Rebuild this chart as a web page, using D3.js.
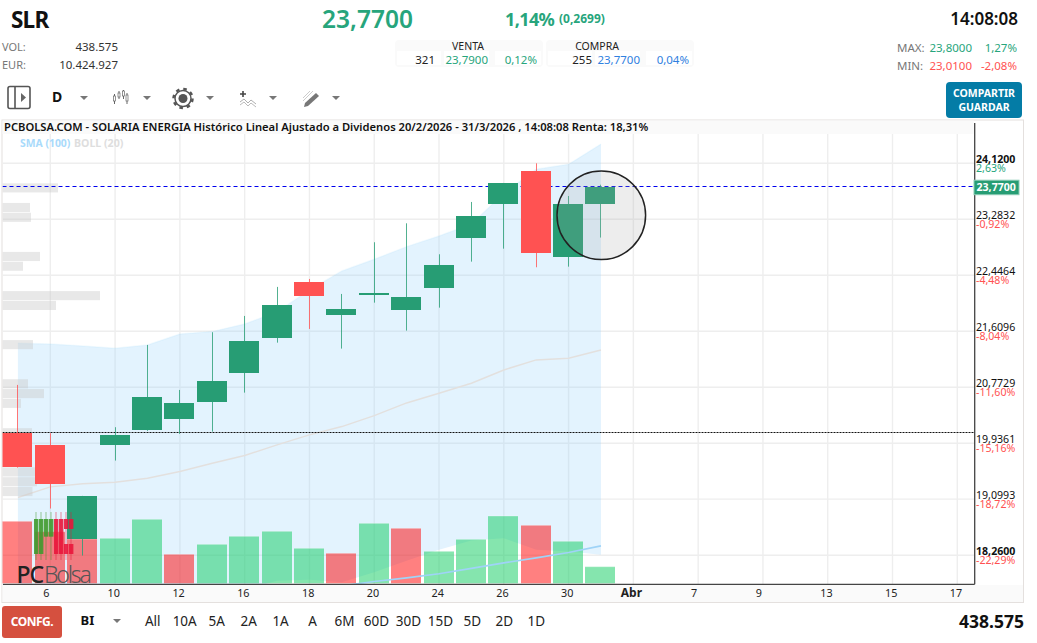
<!DOCTYPE html>
<html lang="es">
<head>
<meta charset="UTF-8">
<title>SLR - PCBolsa</title>
<script src="https://cdnjs.cloudflare.com/ajax/libs/d3/7.8.5/d3.min.js"></script>
<style>
  html, body { margin: 0; padding: 0; background: #fff; overflow: hidden; }
  svg { display: block; }
  text { font-family: "Noto Sans", sans-serif; }
</style>
</head>
<body>
<svg id="chart" width="1037" height="643"></svg>
<script>
// Sessions, 5 March to 31 March 2026
const opens  = [20.085, 19.911, 18.506, 19.911, 20.135, 20.299, 20.553, 20.986, 21.51, 22.346, 21.853, 22.152, 21.928, 22.257, 23.004, 23.512, 24.005, 22.72, 23.512];
const closes = [19.582, 19.328, 19.148, 20.06, 20.628, 20.538, 20.867, 21.465, 22.003, 22.137, 21.943, 22.182, 22.122, 22.6, 23.332, 23.826, 22.78, 23.512, 23.77];
const highs  = [20.807, 20.085, 19.148, 20.175, 21.405, 20.732, 21.595, 21.838, 22.272, 22.391, 22.167, 22.94, 23.223, 22.76, 23.542, 23.826, 24.12, 23.631, 23.8];
const lows   = [19.57, 18.959, 18.256, 19.676, 20.12, 20.075, 20.109, 20.692, 21.439, 21.644, 21.35, 22.037, 21.619, 21.962, 22.65, 22.844, 22.566, 22.575, 23.01];
const volumes = [1638000, 1363000, 1170000, 1189000, 1691000, 766000, 1030000, 1242000, 1374000, 925000, 793000, 1585000, 1453000, 845000, 1162000, 1778000, 1532000, 1110000, 438575];

// Indicators
const bollUpper = [21.43, 21.42, 21.39, 21.356, 21.405, 21.569, 21.604, 21.719, 21.898, 22.227, 22.511, 22.685, 22.874, 23.034, 23.213, 23.672, 24.03, 24.105, 24.408];
const bollMid   = [19.123, 19.283, 19.328, 19.353, 19.413, 19.512, 19.637, 19.751, 19.911, 20.06, 20.184, 20.348, 20.538, 20.683, 20.833, 21.031, 21.181, 21.206, 21.33];
const bollLower = [17.6, 17.58, 17.55, 17.5, 17.48, 17.55, 17.62, 17.744, 17.878, 17.893, 17.859, 18.008, 18.177, 18.342, 18.48, 18.516, 18.342, 18.316, 18.267];
const sma100    = [null, null, null, null, null, null, null, null, null, null, 17.804, 17.868, 17.923, 17.983, 18.065, 18.147, 18.222, 18.301, 18.401];

// Volume by price, one value per price bin from the top down
const priceBinTop = 23.82;
const priceBinSize = 0.1464;
const priceBinVolume = [555, 0, 275, 285, 0, 0, 0, 375, 205, 0, 0, 975, 535, 0, 0, 0, 305, 0, 0, 0, 255, 415, 185, 0, 0, 295, 0, 0, 0, 325, 345, 300];

// Axis ticks
const priceTicks = [24.12, 23.2832, 22.4464, 21.6096, 20.7729, 19.9361, 19.0993, 18.26];
const pctLabels = ["2,63%", "-0,92%", "-4,48%", "-8,04%", "-11,60%", "-15,16%", "-18,72%", "-22,29%"];
const timeTicks = [1, 3, 5, 7, 9, 11, 13, 15, 17, 19, 21, 23, 25, 27, 29];
const timeLabels = ["6", "10", "12", "16", "18", "20", "24", "26", "30", "Abr", "7", "9", "13", "15", "17"];

const lastPrice = 23.77;
const basePrice = 20.09;
const periods = ["All", "10A", "5A", "2A", "1A", "A", "6M", "60D", "30D", "15D", "5D", "2D", "1D"];

const GREEN = "#279d74";
const RED = "#ff5252";
const plot = { left: 2.5, right: 974.7, top: 134, bottom: 584.3 };

const svg = d3.select("#chart");
const x = d3.scaleLinear().domain([1, 29]).range([50.3, 957.3]);
const y = d3.scaleLinear().domain([24.12, 18.26]).range([163.3, 555.3]);
const yVol = d3.scaleLinear().domain([0, 1778000]).range([583.3, 516]);
const xVap = d3.scaleLinear().domain([0, 975]).range([2.5, 100]);
const crisp = v => Math.floor(v) + 0.5;

function label(parent, px, py, str, opt) {
  opt = opt || {};
  return parent.append("text")
    .attr("x", px).attr("y", py)
    .attr("text-anchor", opt.anchor || "start")
    .attr("font-size", opt.size || 11.5)
    .attr("font-weight", opt.weight || 400)
    .attr("font-family", opt.font || null)
    .attr("letter-spacing", opt.spacing || null)
    .attr("fill", opt.fill || "#222")
    .text(str);
}

function caret(cx, cy) {
  svg.append("path").attr("d", d3.line()([[cx - 4, cy - 2], [cx + 4, cy - 2], [cx, cy + 2]])).attr("fill", "#777");
}

// ---- header ----
const head = svg.append("g");
label(head, 11, 28, "SLR", { size: 22.5, weight: 700, fill: "#111", spacing: -0.8 });
label(head, 367.5, 28, "23,7700", { size: 24.5, weight: 600, fill: "#27a57c", anchor: "middle", font: "Inter" });
label(head, 505, 26, "1,14%", { size: 18, weight: 700, fill: "#27a57c", spacing: -0.6 });
label(head, 559, 23, "(0,2699)", { size: 12, weight: 700, fill: "#27a57c" });
label(head, 1018, 25, "14:08:08", { size: 17, weight: 600, fill: "#111", anchor: "end", font: "Inter" });

label(head, 2, 51, "VOL:", { fill: "#777", size: 11 });
label(head, 2, 69, "EUR:", { fill: "#777", size: 11 });
label(head, 118, 51, "438.575", { anchor: "end", fill: "#333", size: 11.5 });
label(head, 118, 69, "10.424.927", { anchor: "end", fill: "#333", size: 11.5 });

// bid and ask boxes
[[395, 148], [546, 148]].forEach(b => {
  head.append("rect").attr("x", b[0]).attr("y", 40).attr("width", b[1]).attr("height", 27).attr("rx", 4).attr("fill", "#fafafa");
});
[[397, 44], [444, 45], [495, 46], [548, 44], [595, 45], [646, 46]].forEach(c => {
  head.append("rect").attr("x", c[0]).attr("y", 51).attr("width", c[1]).attr("height", 14).attr("fill", "#fff");
});
label(head, 468, 50, "VENTA", { anchor: "middle", size: 10.5, fill: "#222" });
label(head, 597, 50, "COMPRA", { anchor: "middle", size: 10.5, fill: "#222" });
label(head, 435, 64, "321", { anchor: "end", size: 11.5 });
label(head, 488, 64, "23,7900", { anchor: "end", size: 11.5, fill: "#27a57c" });
label(head, 537, 64, "0,12%", { anchor: "end", size: 11.5, fill: "#27a57c" });
label(head, 592, 64, "255", { anchor: "end", size: 11.5 });
label(head, 640, 64, "23,7700", { anchor: "end", size: 11.5, fill: "#2f80e0" });
label(head, 689, 64, "0,04%", { anchor: "end", size: 11.5, fill: "#2f80e0" });

label(head, 897, 52, "MAX:", { fill: "#777", size: 11.5 });
label(head, 897, 70, "MIN:", { fill: "#777", size: 11.5 });
label(head, 972, 52, "23,8000", { anchor: "end", fill: "#27a57c", size: 11.5 });
label(head, 1017, 52, "1,27%", { anchor: "end", fill: "#27a57c", size: 11.5 });
label(head, 972, 70, "23,0100", { anchor: "end", fill: "#ff5252", size: 11.5 });
label(head, 1017, 70, "-2,08%", { anchor: "end", fill: "#ff5252", size: 11.5 });

head.append("rect").attr("x", 946).attr("y", 82).attr("width", 76).attr("height", 36).attr("rx", 4).attr("fill", "#047ca6");
label(head, 984, 97, "COMPARTIR", { anchor: "middle", size: 10.5, weight: 700, fill: "#fff" });
label(head, 984, 111, "GUARDAR", { anchor: "middle", size: 10.5, weight: 700, fill: "#fff" });

// ---- toolbar icons ----
const tools = svg.append("g");
tools.append("rect").attr("x", 8).attr("y", 86.5).attr("width", 22).attr("height", 22).attr("rx", 2)
  .attr("fill", "none").attr("stroke", "#555").attr("stroke-width", 1.6);
tools.append("line").attr("x1", 15).attr("x2", 15).attr("y1", 87).attr("y2", 108).attr("stroke", "#555").attr("stroke-width", 1.6);
tools.append("path").attr("d", "M21 93 L26 97.5 L21 102 Z").attr("fill", "#666");
label(tools, 52, 102, "D", { size: 14, weight: 700, fill: "#111" });
[84, 147, 210, 273, 336].forEach(c => caret(c, 98));

// little candles icon
[[114.5, 96, 101, 94, 104], [119, 93, 97, 91, 99], [123.5, 91, 96, 90, 99], [127, 95, 101, 93, 104]].forEach(c => {
  tools.append("line").attr("x1", c[0]).attr("x2", c[0]).attr("y1", c[3]).attr("y2", c[4]).attr("stroke", "#666");
  tools.append("rect").attr("x", c[0] - 1).attr("y", c[1]).attr("width", 2).attr("height", c[2] - c[1]).attr("fill", "#fff").attr("stroke", "#666").attr("stroke-width", 0.7);
});

// gear icon
tools.append("circle").attr("cx", 183).attr("cy", 98.5).attr("r", 8).attr("fill", "none").attr("stroke", "#555").attr("stroke-width", 1.5);
tools.append("circle").attr("cx", 183).attr("cy", 98.5).attr("r", 9.5).attr("fill", "none").attr("stroke", "#555").attr("stroke-width", 2.5).attr("stroke-dasharray", "3.5 3.96");
tools.append("circle").attr("cx", 183).attr("cy", 98.5).attr("r", 4.5).attr("fill", "#555");

// add indicator icon
tools.append("path").attr("d", "M243 91 V97 M240 94 H246").attr("stroke", "#444").attr("stroke-width", 1.6);
tools.append("path").attr("d", "M240 102 L244 99 L248 103 L251 100 L256 104").attr("fill", "none").attr("stroke", "#999").attr("stroke-width", 0.8);
tools.append("path").attr("d", "M240 105 L244 102 L248 106 L251 103 L256 107").attr("fill", "none").attr("stroke", "#aaa").attr("stroke-width", 0.8);

// pencil icon
tools.append("path").attr("d", "M305 103 L316 93 L319 96 L308 106 L304 107 Z").attr("fill", "#777");
tools.append("path").attr("d", "M303 101 L313 91 M303 98 L310 91").attr("stroke", "#ccc").attr("stroke-width", 1);

// ---- chart frame ----
svg.append("rect").attr("x", 2).attr("y", 120).attr("width", 1021.5).attr("height", 482.5).attr("fill", "#fff").attr("stroke", "#e4e0de").attr("stroke-width", 1);
svg.append("rect").attr("x", 2.5).attr("y", 120.5).attr("width", 971).attr("height", 13.5).attr("fill", "#fafafa");
svg.append("rect").attr("x", 2.5).attr("y", 585).attr("width", 1020.5).attr("height", 17).attr("fill", "#fafafa");

const defs = svg.append("defs");
defs.append("clipPath").attr("id", "plotClip").append("rect")
  .attr("x", plot.left).attr("y", plot.top).attr("width", plot.right - plot.left).attr("height", plot.bottom - plot.top);

const g = svg.append("g").attr("clip-path", "url(#plotClip)");

// grid
g.append("g").selectAll("line").data(priceTicks).join("line")
  .attr("x1", plot.left).attr("x2", plot.right)
  .attr("y1", d => y(d)).attr("y2", d => y(d))
  .attr("stroke", "#eeeeee").attr("stroke-width", 1.4);
g.append("g").selectAll("line").data(timeTicks).join("line")
  .attr("x1", d => x(d)).attr("x2", d => x(d))
  .attr("y1", plot.top).attr("y2", plot.bottom)
  .attr("stroke", "#eeeeee").attr("stroke-width", 1.4);

// bollinger band
const idx = d3.range(bollUpper.length);
g.append("path").datum(idx)
  .attr("d", d3.area().x(i => x(i)).y0(i => y(bollLower[i])).y1(i => y(bollUpper[i])))
  .attr("fill", "rgba(150,210,250,0.27)");
g.append("path").datum(idx)
  .attr("d", d3.line().x(i => x(i)).y(i => y(bollUpper[i])))
  .attr("fill", "none").attr("stroke", "rgba(150,210,250,0.12)").attr("stroke-width", 1.5);
g.append("path").datum(idx)
  .attr("d", d3.line().x(i => x(i)).y(i => y(bollMid[i])))
  .attr("fill", "none").attr("stroke", "#e3e0de").attr("stroke-width", 1.5);

// volume by price
g.append("g").selectAll("rect").data(priceBinVolume).join("rect")
  .attr("x", xVap(0))
  .attr("y", (d, i) => y(priceBinTop - i * priceBinSize))
  .attr("width", d => xVap(d) - xVap(0))
  .attr("height", y(priceBinTop - priceBinSize) - y(priceBinTop) - 0.7)
  .attr("fill", "rgba(200,200,200,0.42)");

// volume bars, coloured against the previous close
const volUp = i => i > 0 && closes[i] >= closes[i - 1];
const vols = g.append("g").selectAll("g").data(volumes).join("g");
vols.append("rect")
  .attr("x", (d, i) => Math.floor(x(i)) - 15).attr("width", 30)
  .attr("y", d => yVol(d)).attr("height", d => yVol(0) - yVol(d))
  .attr("fill", (d, i) => volUp(i) ? "rgba(11,203,93,0.5)" : "rgba(255,1,1,0.5)");
vols.append("rect")
  .attr("x", (d, i) => Math.floor(x(i)) - 15).attr("width", 30)
  .attr("y", d => yVol(d) - 0.5).attr("height", 1)
  .attr("fill", "rgba(255,255,255,0.3)");

// sma
g.append("path").datum(idx)
  .attr("d", d3.line().defined(i => sma100[i] !== null).x(i => x(i)).y(i => y(sma100[i])))
  .attr("fill", "none").attr("stroke", "#9fd3f7").attr("stroke-width", 1.6);

// reference lines
g.append("line").attr("x1", plot.left).attr("x2", plot.right).attr("y1", crisp(y(lastPrice))).attr("y2", crisp(y(lastPrice)))
  .attr("stroke", "#0000ee").attr("stroke-width", 1).attr("stroke-dasharray", "4 3");
g.append("line").attr("x1", plot.left).attr("x2", plot.right).attr("y1", crisp(y(basePrice))).attr("y2", crisp(y(basePrice)))
  .attr("stroke", "#111").attr("stroke-width", 1).attr("stroke-dasharray", "2 1");

// candles
const candles = g.append("g").selectAll("g").data(idx).join("g");
candles.append("line")
  .attr("x1", i => crisp(x(i))).attr("x2", i => crisp(x(i)))
  .attr("y1", i => y(highs[i])).attr("y2", i => y(lows[i]))
  .attr("stroke", i => closes[i] >= opens[i] ? GREEN : RED)
  .attr("stroke-opacity", 0.8).attr("stroke-width", 1);
candles.append("rect")
  .attr("x", i => Math.floor(x(i)) - 15).attr("width", 30)
  .attr("y", i => Math.round(y(Math.max(opens[i], closes[i]))))
  .attr("height", i => Math.max(2, Math.round(y(Math.min(opens[i], closes[i])) - y(Math.max(opens[i], closes[i])))))
  .attr("fill", i => closes[i] >= opens[i] ? GREEN : RED);

// watermark logo
const logo = svg.append("g");
[[34, 57, 162, "g"], [39, 57, 162, "g"], [44, 57, 110, "g"], [49, 57, 110, "g"],
 [54, 57, 162, "r"], [59, 57, 162, "r"], [64, 57, 87, "r"], [69, 57, 87, "r"]].forEach(c => {
  const col = c[3] === "g" ? "#3f9a2c" : "#e8143a";
  const px = c[0] + 2;
  logo.append("line").attr("x1", px).attr("x2", px).attr("y1", 512).attr("y2", 560).attr("stroke", col).attr("stroke-opacity", 0.5);
  logo.append("rect").attr("x", c[0]).attr("y", 500 + c[1] / 3).attr("width", 4.4).attr("height", (c[2] - c[1]) / 3).attr("fill", col).attr("fill-opacity", 0.88);
});
[[64, 132, 162], [69, 132, 162]].forEach(c => {
  logo.append("rect").attr("x", c[0]).attr("y", 500 + c[1] / 3).attr("width", 4.4).attr("height", (c[2] - c[1]) / 3).attr("fill", "#e8143a").attr("fill-opacity", 0.88);
});
label(logo, 16.5, 583, "PC", { size: 23, weight: 500, fill: "#222", font: "Roboto", spacing: -1 });
label(logo, 44, 583, "Bolsa", { size: 23, weight: 300, fill: "#555", font: "Roboto", spacing: -2.2 });

// highlight circle on the last session
svg.append("circle").attr("cx", 601.3).attr("cy", 215.3).attr("r", 44.3)
  .attr("fill", "rgba(165,165,165,0.2)").attr("stroke", "#222").attr("stroke-width", 1.5);

// ---- axes ----
const yAxis = svg.append("g").attr("transform", "translate(976,0)")
  .call(d3.axisRight(y).tickValues(priceTicks).tickSize(0).tickPadding(0).tickFormat(d => d3.format(".4f")(d).replace(".", ",")));
yAxis.select(".domain").remove();
yAxis.selectAll("text")
  .attr("dy", "-1px")
  .attr("font-family", "Liberation Sans, Arial, sans-serif")
  .attr("font-size", 10.6)
  .attr("font-weight", (d, i) => i === 0 || i === priceTicks.length - 1 ? 700 : 400)
  .attr("fill", "#111");

svg.append("g").selectAll("text").data(priceTicks).join("text")
  .attr("x", 976).attr("y", d => y(d) + 9)
  .attr("font-family", "Liberation Sans, Arial, sans-serif")
  .attr("font-size", 10.6)
  .attr("fill", (d, i) => pctLabels[i][0] === "-" ? "#ff5252" : "#27a57c")
  .text((d, i) => pctLabels[i]);

const xAxis = svg.append("g").attr("transform", "translate(0,584.3)")
  .call(d3.axisBottom(x).tickValues(timeTicks).tickSize(0).tickPadding(0).tickFormat((d, i) => timeLabels[i]));
xAxis.select(".domain").remove();
xAxis.selectAll("text")
  .attr("y", 13)
  .attr("dy", 0)
  .attr("dx", (d, i) => timeLabels[i] === "Abr" ? -2.5 : timeLabels[i].length === 1 ? -4.5 : -1.8)
  .attr("font-family", "Liberation Sans, Arial, sans-serif")
  .attr("font-size", (d, i) => timeLabels[i] === "Abr" ? 12 : 10.8)
  .attr("font-weight", (d, i) => timeLabels[i] === "Abr" ? 700 : 400)
  .attr("fill", "#222");

svg.append("line").attr("x1", plot.right).attr("x2", plot.right).attr("y1", 123).attr("y2", plot.bottom).attr("stroke", "#444").attr("stroke-width", 1.3);
svg.append("line").attr("x1", 3).attr("x2", plot.right).attr("y1", plot.bottom).attr("y2", plot.bottom).attr("stroke", "#444").attr("stroke-width", 1.3);

// last price tag
svg.append("rect").attr("x", 974).attr("y", y(lastPrice) - 6.5).attr("width", 45).attr("height", 14.5)
  .attr("fill", GREEN).attr("stroke", "#8ccbb5").attr("stroke-width", 1);
label(svg, 976.5, y(lastPrice) + 4.5, "23,7700", { size: 10.6, weight: 700, fill: "#fff", font: "Liberation Sans, Arial, sans-serif" });

// chart title and legend
label(svg, 4, 131, "PCBOLSA.COM - SOLARIA ENERGIA Histórico Lineal Ajustado a Dividenos 20/2/2026 - 31/3/2026 , 14:08:08 Renta: 18,31%", { size: 11.2, weight: 600, fill: "#111" });
label(svg, 20, 147, "SMA (100)", { size: 10.4, weight: 700, fill: "#a9dafb", font: "Liberation Sans, Arial, sans-serif" });
label(svg, 74, 147, "BOLL (20)", { size: 10.6, weight: 700, fill: "#dedede", font: "Liberation Sans, Arial, sans-serif" });

// ---- bottom bar ----
svg.append("rect").attr("x", 2).attr("y", 606).attr("width", 60).attr("height", 32).attr("rx", 3).attr("fill", "#d5503f");
label(svg, 32, 626, "CONFG.", { anchor: "middle", size: 12, weight: 700, fill: "#fff", spacing: -0.5 });
label(svg, 80.5, 625, "BI", { size: 13, weight: 700, fill: "#111" });
caret(117, 621);

const periodScale = d3.scalePoint().domain(periods).range([152.7, 536.3]);
svg.append("g").selectAll("text").data(periods).join("text")
  .attr("x", d => periodScale(d)).attr("y", 626)
  .attr("text-anchor", "middle")
  .attr("font-size", 13.5)
  .attr("fill", "#222")
  .text(d => d);

label(svg, 1024, 628, "438.575", { anchor: "end", size: 17.5, weight: 700, fill: "#111" });
</script>
</body>
</html>
